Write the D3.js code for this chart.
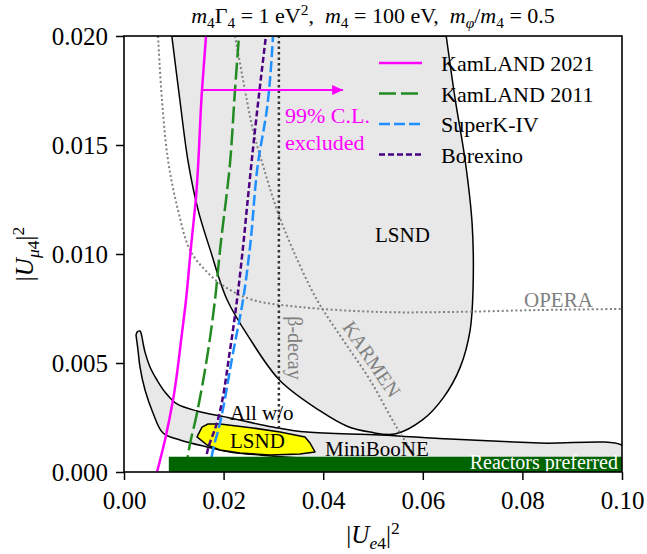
<!DOCTYPE html>
<html>
<head>
<meta charset="utf-8">
<script src="https://cdn.jsdelivr.net/npm/d3@7"></script>
<style>
  body { margin: 0; background: #fff; }
  text { font-family: "Liberation Serif", "DejaVu Serif", serif; white-space: pre; }
</style>
</head>
<body>
<div id="chart"></div>
<script>
// values, in data units (|Ue4|^2, |Umu4|^2)
var xTicks = [0, 0.02, 0.04, 0.06, 0.08, 0.10];
var yTicks = [0, 0.005, 0.010, 0.015, 0.020];

var lsnd = [[0.0096,0.0200],[0.0112,0.0171],[0.0129,0.0142],[0.0149,0.0120],[0.0173,0.0102],
  [0.0207,0.0079],[0.0253,0.0061],[0.0313,0.0042],[0.0394,0.0028],[0.0448,0.0021],
  [0.0494,0.00183],[0.0544,0.00174],[0.0600,0.0024],[0.0641,0.0034],[0.0675,0.0048],
  [0.0695,0.0065],[0.0701,0.0085],[0.0699,0.0114],[0.0685,0.0143],[0.0665,0.0171],[0.0647,0.0200]];

var allWo = [[0.00261,0.00642],[0.00321,0.00647],[0.00361,0.00619],[0.00382,0.00592],[0.00422,0.0055],
  [0.00522,0.00482],[0.00663,0.00422],[0.00823,0.00367],[0.01064,0.00312],[0.01466,0.0028],
  [0.02129,0.00248],[0.02992,0.00206],[0.03675,0.00183],[0.05141,0.0017],[0.06546,0.00151],
  [0.08353,0.00133],[0.1005,0.00115],[0.1005,0.00032],[0.03936,0.0006],[0.02731,0.00078],
  [0.02129,0.00092],[0.01667,0.00115],[0.01124,0.00147],[0.00783,0.00179],[0.00582,0.00271],
  [0.00422,0.00376],[0.00321,0.00482],[0.00281,0.0056],[0.00241,0.00628]];

var lsndSmall = [[0.01466,0.00161],[0.01566,0.00206],[0.01687,0.0022],[0.01928,0.0022],[0.0259,0.00202],
  [0.03133,0.00183],[0.03635,0.00161],[0.03735,0.00133],[0.03835,0.00092],[0.03534,0.00083],
  [0.02932,0.00078],[0.02329,0.00087],[0.01928,0.00101],[0.01667,0.00124]];

var opera = [[0.00683,0.0200],[0.00763,0.01706],[0.00884,0.01431],[0.01084,0.01202],[0.01325,0.01018],
  [0.01627,0.00927],[0.02028,0.00849],[0.0259,0.00789],[0.03534,0.00757],[0.05141,0.00734],
  [0.06546,0.00734],[0.08353,0.00743],[0.1002,0.00748]];

var karmen = [[0.02229,0.0200],[0.0241,0.01775],[0.0259,0.01569],[0.02831,0.01376],[0.03072,0.01202],
  [0.03394,0.01018],[0.03876,0.00789],[0.04398,0.00606],[0.0494,0.00422],[0.05482,0.00202],[0.06044,0.0]];

var betaDecay = [[0.0311,0.0020],[0.0311,0.0200]];

var kam2021 = [[0.00663,0],[0.00823,0.00147],[0.00984,0.0033],[0.01165,0.00638],[0.01245,0.00789],
  [0.01345,0.01032],[0.01446,0.01261],[0.01566,0.01752],[0.01647,0.0200]];
var kam2011 = [[0.01245,0],[0.01285,0.00078],[0.01466,0.00271],[0.01627,0.00468],[0.01827,0.00789],
  [0.01928,0.01018],[0.02129,0.01417],[0.02229,0.01752],[0.02309,0.0200]];
var superK = [[0.0172,0],[0.01767,0.00078],[0.01928,0.00225],[0.02189,0.00546],[0.0239,0.00789],
  [0.0253,0.01032],[0.02691,0.01417],[0.0287,0.01665],[0.02992,0.0200]];
var borexino = [[0.0163,0],[0.01667,0.00087],[0.01867,0.00225],[0.02129,0.0056],[0.02269,0.00789],
  [0.0239,0.01032],[0.0249,0.01261],[0.02631,0.01569],[0.0285,0.0200]];

var reactorX = [0.009, 0.10];
var reactorY = [0, 0.0007];
var arrowPts = [[0.0157,0.01752],[0.0440,0.01752]];

var legendNames = ["KamLAND 2021", "KamLAND 2011", "SuperK-IV", "Borexino"];

var margin = { top: 36, right: 25, bottom: 82, left: 124 },
  width = 647 - margin.left - margin.right,
  height = 554 - margin.top - margin.bottom;

var svg = d3.select("#chart")
  .append("svg")
  .attr("width", 647)
  .attr("height", 554);

var g = svg.append("g")
  .attr("transform", "translate(" + margin.left + "," + margin.top + ")");

var x = d3.scaleLinear().domain([0, 0.10]).range([0, width]);
var y = d3.scaleLinear().domain([0, 0.020]).range([height, 0]);

g.append("clipPath").attr("id", "plotclip")
  .append("rect").attr("width", width).attr("height", height);

var plot = g.append("g").attr("clip-path", "url(#plotclip)");

var smooth = d3.line().x(function (d) { return x(d[0]); }).y(function (d) { return y(d[1]); })
  .curve(d3.curveCatmullRom);
var monoY = d3.line().x(function (d) { return x(d[0]); }).y(function (d) { return y(d[1]); })
  .curve(d3.curveMonotoneY);
var straight = d3.line().x(function (d) { return x(d[0]); }).y(function (d) { return y(d[1]); });

// filled regions
plot.append("path").attr("d", smooth(lsnd) + "Z")
  .attr("fill", "#e8e8e8").attr("stroke", "black").attr("stroke-width", 1.5);
plot.append("path").attr("d", smooth(allWo) + "Z")
  .attr("fill", "#e8e8e8").attr("stroke", "black").attr("stroke-width", 1.5);

// dotted bounds
plot.append("path").attr("d", smooth(opera))
  .attr("fill", "none").attr("stroke", "#808080").attr("stroke-width", 2).attr("stroke-dasharray", "2,2.5");
plot.append("path").attr("d", smooth(karmen))
  .attr("fill", "none").attr("stroke", "#808080").attr("stroke-width", 2).attr("stroke-dasharray", "2,2.5");
plot.append("path").attr("d", straight(betaDecay))
  .attr("fill", "none").attr("stroke", "#333").attr("stroke-width", 2.5).attr("stroke-dasharray", "2.5,3");

plot.append("path").attr("d", straight(lsndSmall) + "Z")
  .attr("fill", "#ffff00").attr("stroke", "black").attr("stroke-width", 1.5).attr("stroke-linejoin", "round");

// exclusion lines
var lines = [
  { d: kam2021, color: "#ff00ff", dash: null },
  { d: kam2011, color: "#228b22", dash: "17,5" },
  { d: superK, color: "#1e90ff", dash: "11,4" },
  { d: borexino, color: "#4b0082", dash: "6,3" }
];
lines.forEach(function (l) {
  plot.append("path").attr("d", monoY(l.d))
    .attr("fill", "none").attr("stroke", l.color).attr("stroke-width", 2.5)
    .attr("stroke-dasharray", l.dash);
});

// reactors preferred bar
plot.append("rect")
  .attr("x", x(reactorX[0])).attr("width", x(reactorX[1]) - x(reactorX[0]))
  .attr("y", y(reactorY[1])).attr("height", y(reactorY[0]) - y(reactorY[1]))
  .attr("fill", "#006400");

// arrow
g.append("path").attr("d", straight(arrowPts))
  .attr("stroke", "#ff00ff").attr("stroke-width", 2);
var ax = x(arrowPts[1][0]), ay = y(arrowPts[1][1]);
g.append("path")
  .attr("d", "M" + ax + "," + ay + "L" + (ax - 11) + "," + (ay - 5) + "L" + (ax - 11) + "," + (ay + 5) + "Z")
  .attr("fill", "#ff00ff");

// labels inside the plot
function label(txt, px, py, opts) {
  opts = opts || {};
  var t = g.append("text")
    .attr("x", px).attr("y", py)
    .attr("font-size", opts.size || 21)
    .attr("fill", opts.color || "black")
    .attr("text-anchor", opts.anchor || "start")
    .text(txt);
  if (opts.rotate) t.attr("transform", "rotate(" + opts.rotate + "," + px + "," + py + ")");
  return t;
}
label("99% C.L.", 161, 87, { color: "#ff00ff", size: 22 });
label("excluded", 161, 114, { color: "#ff00ff", size: 22 });
label("LSND", 251, 206);
label("All w/o", 106, 384);
label("MiniBooNE", 201, 420);
label("LSND", 106, 412);
label("OPERA", 400, 271, { color: "#808080" });
label("Reactors preferred", 494, 433, { color: "white", anchor: "end", size: 20 });
label("\u03b2-decay", 164, 312, { color: "#808080", anchor: "middle", rotate: 90, size: 20 });
label("KARMEN", 242, 327, { color: "#808080", anchor: "middle", rotate: 56, size: 20 });

// legend
var legend = g.append("g").attr("transform", "translate(255,27)");
legendNames.forEach(function (name, i) {
  var row = legend.append("g").attr("transform", "translate(0," + (i * 30.5) + ")");
  row.append("line").attr("x1", 0).attr("x2", 43)
    .attr("stroke", lines[i].color).attr("stroke-width", 2.5)
    .attr("stroke-dasharray", lines[i].dash);
  row.append("text").attr("x", 62).attr("y", 8).attr("font-size", 22).text(name);
});

// axes
var xAxis = g.append("g").attr("transform", "translate(0," + height + ")")
  .call(d3.axisBottom(x).tickValues(xTicks).tickFormat(d3.format(".2f")).tickSize(8).tickPadding(11));
var yAxis = g.append("g")
  .call(d3.axisLeft(y).tickValues(yTicks).tickFormat(d3.format(".3f")).tickSize(8).tickPadding(8));
[xAxis, yAxis].forEach(function (a) {
  a.select(".domain").remove();
  a.selectAll("line").attr("stroke-width", 1.5);
  a.selectAll("text").attr("font-size", 25).attr("font-family", "Liberation Serif").attr("fill", "black");
});

g.append("rect").attr("width", width).attr("height", height)
  .attr("fill", "none").attr("stroke", "black").attr("stroke-width", 1.6);

// math-style text helper
function mathText(t, parts, size) {
  var cur = 0;
  parts.forEach(function (p) {
    var off = p.sub ? 0.22 * size : p.sup ? -0.36 * size : 0;
    var ts = t.append("tspan").attr("dy", off - cur).text(p.t);
    cur = off;
    if (p.it) ts.attr("font-style", "italic");
    if (p.sub || p.sup) ts.attr("font-size", size * 0.7);
  });
}

var title = svg.append("text").attr("x", margin.left + width / 2).attr("y", 23)
  .attr("text-anchor", "middle").attr("font-size", 22);
mathText(title, [
  { t: "m", it: true }, { t: "4", sub: true }, { t: "\u0393" }, { t: "4", sub: true },
  { t: " = 1 eV" }, { t: "2", sup: true }, { t: ",  " }, { t: "m", it: true }, { t: "4", sub: true },
  { t: " = 100 eV,  " }, { t: "m", it: true }, { t: "\u03c6", sub: true, it: true },
  { t: "/" }, { t: "m", it: true }, { t: "4", sub: true }, { t: " = 0.5" }
], 22);

var xlab = svg.append("text").attr("x", margin.left + width / 2).attr("y", 543)
  .attr("text-anchor", "middle").attr("font-size", 25);
mathText(xlab, [{ t: "|" }, { t: "U", it: true }, { t: "e", it: true, sub: true }, { t: "4", sub: true },
  { t: "|" }, { t: "2", sup: true }], 25);

var ylab = svg.append("text").attr("transform", "translate(33,254) rotate(-90)")
  .attr("text-anchor", "middle").attr("font-size", 25);
mathText(ylab, [{ t: "|" }, { t: "U", it: true }, { t: "\u03bc", it: true, sub: true }, { t: "4", sub: true },
  { t: "|" }, { t: "2", sup: true }], 25);
</script>
</body>
</html>
